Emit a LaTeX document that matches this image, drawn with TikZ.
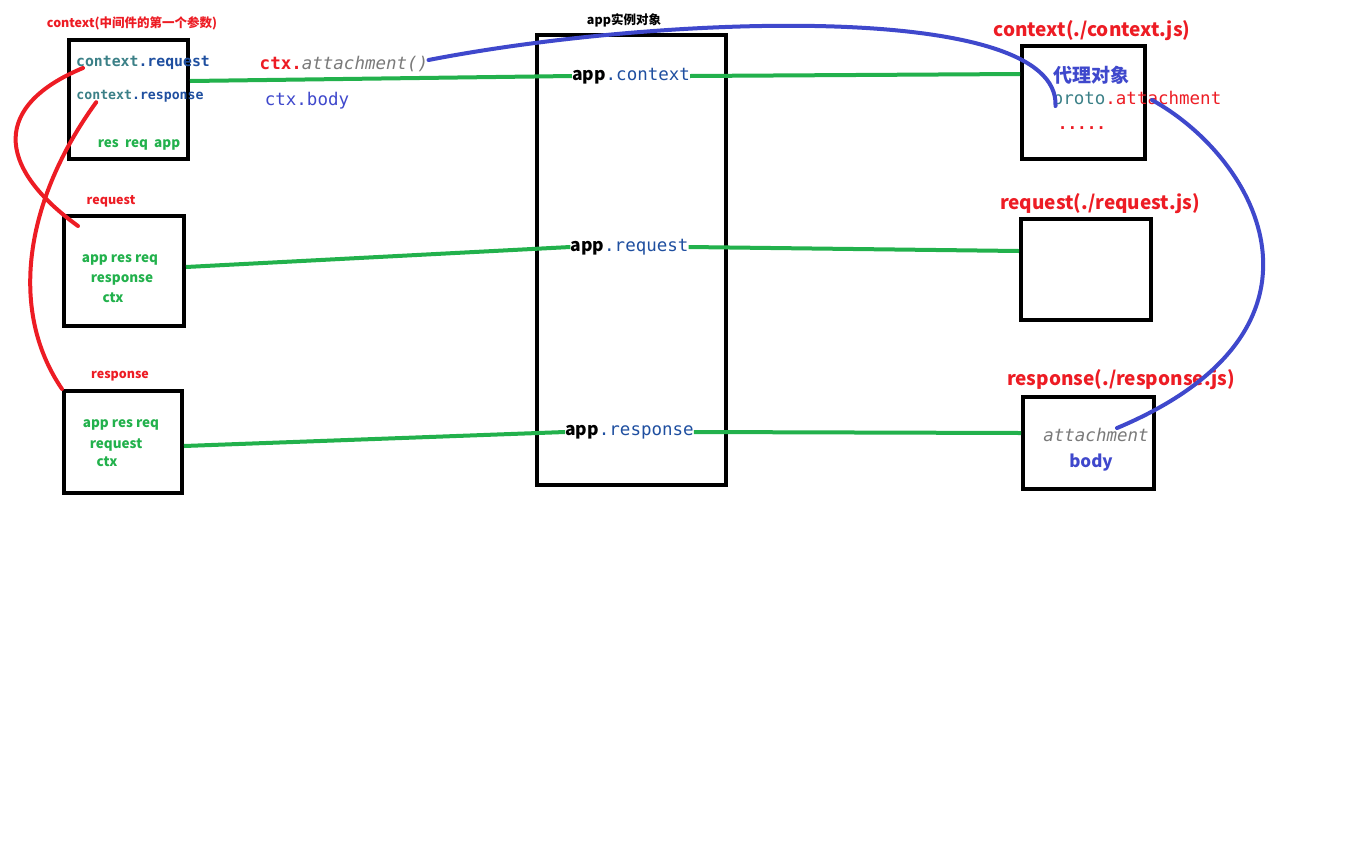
\documentclass[tikz,border=0pt]{standalone}
\usepackage{fontspec}
\setmainfont{Noto Sans CJK SC}
\setmonofont{DejaVu Sans Mono}
\usepackage{xcolor}
\usepackage{tikz}

\definecolor{pred}{HTML}{ED1C24}
\definecolor{pgreen}{HTML}{22B14C}
\definecolor{pblue}{HTML}{3F48CC}
\definecolor{kblue}{HTML}{1F4FA0}
\definecolor{kteal}{HTML}{3B8087}
\definecolor{kgray}{HTML}{7A7A7A}

\begin{document}
\begin{tikzpicture}[x=1pt, y=-1pt]
    \tikzstyle{obj} = [rectangle, draw=black, line width=4pt, inner sep=0pt]
    \tikzstyle{txt} = [inner sep=0pt]
    \tikzstyle{tag} = [txt, text=pred, font=\bfseries\fontsize{12.5}{14}\selectfont]
    \tikzstyle{member} = [txt, text=pgreen, font=\bfseries\fontsize{13.5}{15}\selectfont]
    \tikzstyle{head} = [txt, text=pred, font=\bfseries\fontsize{19}{22}\selectfont]
    \tikzstyle{code} = [txt, font=\ttfamily\bfseries\fontsize{14.8}{16}\selectfont]
    \tikzstyle{bigcode} = [txt, font=\ttfamily\fontsize{17.5}{20}\selectfont]
    \tikzstyle{link} = [pgreen, line width=4pt]
    \tikzstyle{curve} = [line width=4pt, line cap=round]

    \useasboundingbox [fill=white] (0,0) rectangle (1360,863);

    % left side: the middleware context and its request / response
    \node (ctxbox) [obj, minimum width=119pt, minimum height=119pt] at (128.5,99.5) {};
    \node (reqbox) [obj, minimum width=120pt, minimum height=110pt] at (124,271) {};
    \node (resbox) [obj, minimum width=118pt, minimum height=102pt] at (123,442) {};

    \node (ctxlbl) [tag] at (132,23) {context(中间件的第一个参数)};
    \node (ctxreq) [code] at (143,63) {\textcolor{kteal}{context}\textcolor{kblue}{.request}};
    \node (ctxres) [code, font=\ttfamily\bfseries\fontsize{13.2}{15}\selectfont] at (140,96) {\textcolor{kteal}{context}\textcolor{kblue}{.response}};
    \node (ctxmem) [member] at (139,145) {res\ \ req\ \ app};

    \node (reqlbl) [tag] at (111,201) {request};
    \node (reqm1) [member] at (120,260) {app res req};
    \node (reqm2) [member] at (122,280) {response};
    \node (reqm3) [member] at (113,298) {ctx};

    \node (reslbl) [tag] at (120,376) {response};
    \node (resm1) [member] at (121,425) {app res req};
    \node (resm2) [member] at (116,445) {request};
    \node (resm3) [member] at (107,462) {ctx};

    \node (attach) [bigcode] at (344,64) {\textcolor{pred}{\bfseries ctx.}\textcolor{kgray}{\itshape attachment()}};
    \node (ctxbody) [bigcode, text=pblue] at (307,101) {ctx.body};

    % middle: the app instance
    \node (appbox) [obj, minimum width=189pt, minimum height=450pt] at (631.5,260) {};
    \node (applbl) [txt, font=\bfseries\fontsize{12.5}{14}\selectfont] at (624,20) {app实例对象};
    \node (appctx) [bigcode] at (631,76) {{\rmfamily\bfseries app}\textcolor{kblue}{.context}};
    \node (appreq) [bigcode] at (629.5,247) {{\rmfamily\bfseries app}\textcolor{kblue}{.request}};
    \node (appres) [bigcode] at (629.5,432) {{\rmfamily\bfseries app}\textcolor{kblue}{.response}};

    % right side: the prototype files
    \node (ctxjs) [obj, minimum width=123pt, minimum height=113pt] at (1083.5,102.5) {};
    \node (reqjs) [obj, minimum width=130pt, minimum height=101pt] at (1086,269.5) {};
    \node (resjs) [obj, minimum width=131pt, minimum height=92pt] at (1088.5,443) {};

    \node (ctxjslbl) [head] at (1092,31) {context(./context.js)};
    \node (proxy) [txt, text=pblue, font=\bfseries\fontsize{19}{22}\selectfont] at (1091,75) {代理对象};
    \node (ctxproto) [bigcode] at (1137,100) {\textcolor{kteal}{proto}\textcolor{pred}{.attachment}};
    \node (ctxdots) [bigcode, text=pred, font=\ttfamily\bfseries\fontsize{16}{18}\selectfont] at (1082,128) {.....};
    \node (reqjslbl) [head] at (1100,204) {request(./request.js)};
    \node (resjslbl) [head] at (1121,380) {response(./response.js)};
    \node (resattach) [bigcode, text=kgray, font=\ttfamily\itshape\fontsize{17.5}{20}\selectfont] at (1096,435) {attachment};
    \node (resbody) [txt, text=pblue, font=\bfseries\fontsize{17}{20}\selectfont] at (1091,463) {body};

    % green links through the app instance
    \draw [link] ([yshift=18.5pt]ctxbox.east) -- (appctx.west);
    \draw [link] (appctx.east) -- ([yshift=28.5pt]ctxjs.west);
    \draw [link] ([yshift=4pt]reqbox.east) -- (appreq.west);
    \draw [link] (appreq.east) -- ([yshift=18.5pt]reqjs.west);
    \draw [link] ([yshift=-4pt]resbox.east) -- (appres.west);
    \draw [link] (appres.east) -- ([yshift=10pt]resjs.west);

    % red: context members to request / response
    \draw [curve, pred] ([xshift=7pt,yshift=-5pt]ctxreq.west) .. controls (-6,105) and (-6,165) .. ([xshift=16pt,yshift=-12pt]reqbox.north west);
    \draw [curve, pred] ([xshift=20pt]ctxres.south west) .. controls (25,200) and (8,310) .. (resbox.north west);

    % blue: delegation of attachment
    \draw [curve, pblue] ([yshift=4pt]attach.east) .. controls (660,15) and (1060,0) .. ([xshift=3pt,yshift=-6pt]ctxproto.west);
    \draw [curve, pblue] ([xshift=15pt]ctxproto.center) .. controls (1260,160) and (1350,330) .. ([xshift=21pt]resattach.north);
\end{tikzpicture}
\end{document}
